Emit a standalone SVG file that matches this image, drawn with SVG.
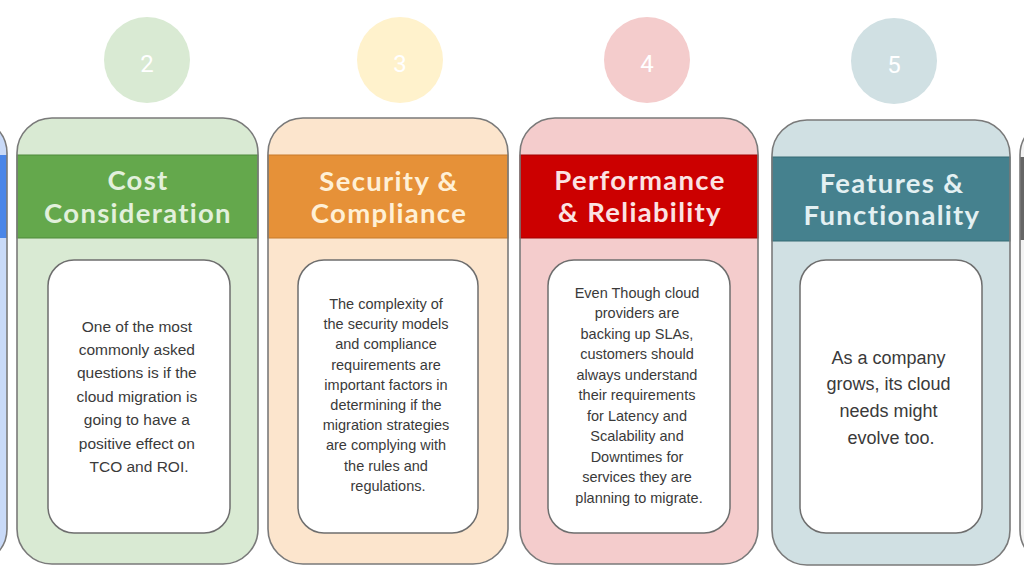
<svg xmlns="http://www.w3.org/2000/svg" width="1024" height="585" viewBox="0 0 1024 585">
<style>
.outline{fill:none;stroke:#7a7a7a;stroke-width:1.6}
.inner{fill:#ffffff;stroke:#6e6e6e;stroke-width:1.5}
.head{font-family:Lato,"Open Sans",sans-serif;font-weight:700;font-size:27.5px;letter-spacing:1.3px;text-anchor:middle}
.body{font-family:"Liberation Sans",Arial,sans-serif;fill:#3a3a3a;text-anchor:middle}
.num{font-family:Roboto,"Liberation Sans",sans-serif;font-size:24px;fill:#ffffff;text-anchor:middle}
</style>
<rect x="0" y="0" width="1024" height="585" fill="#ffffff"/>

<g id="card1-partial">
  <rect x="-233" y="118" width="240" height="446" rx="35" fill="#c9daf8"/>
  <rect x="-233" y="155" width="240" height="83" fill="#4a86e8"/>
  <rect x="-233" y="118" width="240" height="446" rx="35" class="outline"/>
</g>

<g id="card2">
  <circle cx="147" cy="60" r="43" fill="#d9ead3"/>
  <text x="147" y="72" class="num">2</text>
  <rect x="17" y="118" width="241" height="446" rx="35" fill="#d9ead3"/>
  <rect x="17" y="155" width="241" height="83" fill="#64a84c" stroke="#4f8a3a" stroke-width="1"/>
  <rect x="17" y="118" width="241" height="446" rx="35" class="outline"/>
  <text class="head" fill="#e2f0dc"><tspan x="138" y="190">Cost</tspan><tspan x="138" y="223">Consideration</tspan></text>
  <rect x="48" y="260" width="182" height="273" rx="26" class="inner"/>
  <text class="body" font-size="15.5">
    <tspan x="139" y="331.5">One of the most</tspan>
    <tspan x="139" y="354.9">commonly asked</tspan>
    <tspan x="139" y="378.3">questions is if the</tspan>
    <tspan x="139" y="401.7">cloud migration is</tspan>
    <tspan x="139" y="425.1">going to have a</tspan>
    <tspan x="139" y="448.5">positive effect on</tspan>
    <tspan x="139" y="471.9">TCO and ROI.</tspan>
  </text>
</g>

<g id="card3">
  <circle cx="400" cy="60" r="43" fill="#fff2cc"/>
  <text x="400" y="72" class="num">3</text>
  <rect x="268" y="118" width="240" height="446" rx="35" fill="#fce5cd"/>
  <rect x="268" y="155" width="240" height="83" fill="#e69138" stroke="#c77a2a" stroke-width="1"/>
  <rect x="268" y="118" width="240" height="446" rx="35" class="outline"/>
  <text class="head" fill="#fff0d6"><tspan x="389" y="191">Security &amp;</tspan><tspan x="389" y="223">Compliance</tspan></text>
  <rect x="298" y="260" width="180" height="273" rx="26" class="inner"/>
  <text class="body" font-size="14.5">
    <tspan x="388" y="309">The complexity of</tspan>
    <tspan x="388" y="329.2">the security models</tspan>
    <tspan x="388" y="349.4">and compliance</tspan>
    <tspan x="388" y="369.6">requirements are</tspan>
    <tspan x="388" y="389.8">important factors in</tspan>
    <tspan x="388" y="410">determining if the</tspan>
    <tspan x="388" y="430.2">migration strategies</tspan>
    <tspan x="388" y="450.4">are complying with</tspan>
    <tspan x="388" y="470.6">the rules and</tspan>
    <tspan x="388" y="490.8">regulations.</tspan>
  </text>
</g>

<g id="card4">
  <circle cx="647" cy="60" r="43" fill="#f4cccc"/>
  <text x="647" y="72" class="num">4</text>
  <rect x="520" y="118" width="238" height="446" rx="35" fill="#f4cccc"/>
  <rect x="520" y="155" width="238" height="83" fill="#cc0000" stroke="#a30000" stroke-width="1"/>
  <rect x="520" y="118" width="238" height="446" rx="35" class="outline"/>
  <text class="head" fill="#fbe3e3"><tspan x="640" y="190">Performance</tspan><tspan x="640" y="222">&amp; Reliability</tspan></text>
  <rect x="548" y="260" width="182" height="273" rx="26" class="inner"/>
  <text class="body" font-size="14.5">
    <tspan x="639" y="297.5">Even Though cloud</tspan>
    <tspan x="639" y="318">providers are</tspan>
    <tspan x="639" y="338.5">backing up SLAs,</tspan>
    <tspan x="639" y="359">customers should</tspan>
    <tspan x="639" y="379.5">always understand</tspan>
    <tspan x="639" y="400">their requirements</tspan>
    <tspan x="639" y="420.5">for Latency and</tspan>
    <tspan x="639" y="441">Scalability and</tspan>
    <tspan x="639" y="461.5">Downtimes for</tspan>
    <tspan x="639" y="482">services they are</tspan>
    <tspan x="639" y="502.5">planning to migrate.</tspan>
  </text>
</g>

<g id="card5">
  <circle cx="894" cy="61" r="43" fill="#d0e0e3"/>
  <text x="894" y="73" class="num">5</text>
  <rect x="772" y="120" width="238" height="445" rx="35" fill="#d0e0e3"/>
  <rect x="772" y="157" width="238" height="84" fill="#45818e" stroke="#356a75" stroke-width="1"/>
  <rect x="772" y="120" width="238" height="445" rx="35" class="outline"/>
  <text class="head" fill="#e3f0f2"><tspan x="892" y="193">Features &amp;</tspan><tspan x="892" y="225">Functionality</tspan></text>
  <rect x="800" y="260" width="182" height="273" rx="26" class="inner"/>
  <text class="body" font-size="18">
    <tspan x="891" y="363.5">As a company</tspan>
    <tspan x="891" y="390.2">grows, its cloud</tspan>
    <tspan x="891" y="416.9">needs might</tspan>
    <tspan x="891" y="443.6">evolve too.</tspan>
  </text>
</g>

<g id="card6-partial">
  <rect x="1020" y="120" width="240" height="445" rx="35" fill="#f3f3f3"/>
  <rect x="1020" y="157" width="240" height="83" fill="#666666"/>
  <rect x="1020" y="120" width="240" height="445" rx="35" class="outline"/>
</g>

<g id="connectors"/>
</svg>
